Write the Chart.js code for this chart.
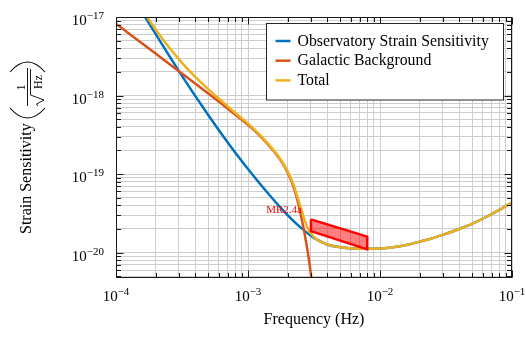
<!DOCTYPE html>
<html>
<head>
<meta charset="utf-8">
<script src="https://cdn.jsdelivr.net/npm/chart.js@4.4.1/dist/chart.umd.min.js"></script>
<style>
  html, body { margin: 0; padding: 0; background: #fff; }
  #wrap { width: 526px; height: 337px; }
</style>
</head>
<body>
<div id="wrap"><canvas id="sensChart" width="526" height="337"></canvas></div>
<script>
// --- data ---
const obsFreq = [1.585e-4, 2e-4, 2.512e-4, 3.162e-4, 3.981e-4, 5.012e-4, 6.31e-4, 7.943e-4, 1e-3, 1.259e-3, 1.585e-3, 1.995e-3, 2.512e-3, 3.162e-3, 3.981e-3, 5.012e-3, 6.31e-3, 7.943e-3, 1e-2, 1.259e-2, 1.585e-2, 1.995e-2, 2.512e-2, 3.162e-2, 3.981e-2, 5.012e-2, 6.31e-2, 7.943e-2, 1e-1];
const obsStrain = [1.135e-17, 6.05e-18, 3.27e-18, 1.78e-18, 9.9e-19, 5.61e-19, 3.24e-19, 1.91e-19, 1.16e-19, 7.19e-20, 4.58e-20, 3.01e-20, 2.08e-20, 1.54e-20, 1.27e-20, 1.17e-20, 1.13e-20, 1.117e-20, 1.13e-20, 1.17e-20, 1.25e-20, 1.38e-20, 1.53e-20, 1.74e-20, 2.0e-20, 2.34e-20, 2.82e-20, 3.47e-20, 4.34e-20];

const galFreq = [1e-4, 1.995e-4, 3.981e-4, 6.31e-4, 7.943e-4, 1e-3, 1.259e-3, 1.585e-3, 1.778e-3, 1.995e-3, 2.239e-3, 2.512e-3, 2.818e-3, 3.162e-3];
const galStrain = [8.22e-18, 3.42e-18, 1.42e-18, 7.87e-19, 5.77e-19, 4.23e-19, 2.96e-19, 1.91e-19, 1.47e-19, 1.05e-19, 6.47e-20, 3.06e-20, 1.09e-20, 2.73e-21];

const totFreq = [1.585e-4, 1.995e-4, 2.512e-4, 3.162e-4, 3.981e-4, 5.012e-4, 6.31e-4, 7.943e-4, 1e-3, 1.259e-3, 1.585e-3, 1.778e-3, 1.995e-3, 2.239e-3, 2.512e-3, 2.818e-3, 3.162e-3, 3.981e-3, 5.012e-3, 6.31e-3, 7.943e-3, 1e-2, 1.259e-2, 1.585e-2, 1.995e-2, 2.512e-2, 3.162e-2, 3.981e-2, 5.012e-2, 6.31e-2, 7.943e-2, 1e-1];
const totStrain = [1.225e-17, 6.95e-18, 4.14e-18, 2.61e-18, 1.73e-18, 1.2e-18, 8.51e-19, 6.08e-19, 4.39e-19, 3.04e-19, 1.96e-19, 1.51e-19, 1.09e-19, 6.93e-20, 3.7e-20, 2.09e-20, 1.57e-20, 1.27e-20, 1.17e-20, 1.13e-20, 1.117e-20, 1.13e-20, 1.17e-20, 1.25e-20, 1.38e-20, 1.53e-20, 1.74e-20, 2.0e-20, 2.34e-20, 2.82e-20, 3.47e-20, 4.34e-20];

// requirement box (closed polygon)
const boxFreq = [3e-3, 8e-3, 8e-3, 3e-3, 3e-3];
const boxStrain = [2.65e-20, 1.6e-20, 1.1e-20, 1.88e-20, 2.65e-20];
const boxLabel = 'MR2.4a';

const seriesNames = ['Observatory Strain Sensitivity', 'Galactic Background', 'Total'];
const seriesColors = ['#0072BD', '#D95319', '#EDB120'];

const xMin = 1e-4, xMax = 1e-1;
const yMin = 4.75e-21, yMax = 1e-17;
const xTickExps = [-4, -3, -2, -1];
const yTickExps = [-20, -19, -18, -17];

const SERIF = '"Liberation Serif", "DejaVu Serif", serif';

function pts(xs, ys) {
    return xs.map((x, i) => ({ x: x, y: ys[i] }));
}

// 1..9 x 10^k grid positions inside [lo, hi]
function logGrid(lo, hi) {
    const vals = [];
    for (let e = Math.floor(Math.log10(lo)); e <= Math.ceil(Math.log10(hi)); e++) {
        for (let m = 1; m <= 9; m++) {
            const v = m * Math.pow(10, e);
            if (v >= lo * 0.999 && v <= hi * 1.001) vals.push({ value: v });
        }
    }
    return vals;
}

function isDecade(v) {
    const l = Math.log10(v);
    return Math.abs(l - Math.round(l)) < 1e-6;
}

// "10" with a raised exponent
function drawPow(c, x, y, exp, align) {
    const base = '10', sup = (exp < 0 ? '\u2212' : '') + Math.abs(exp);
    c.font = '15px ' + SERIF;
    const wb = c.measureText(base).width;
    c.font = '11px ' + SERIF;
    const ws = c.measureText(sup).width;
    const left = align === 'right' ? x - wb - ws : x - (wb + ws) / 2;
    c.textAlign = 'left';
    c.textBaseline = 'alphabetic';
    c.font = '15px ' + SERIF;
    c.fillText(base, left, y);
    c.font = '11px ' + SERIF;
    c.fillText(sup, left + wb, y - 6);
}

const decorations = {
    id: 'decorations',
    afterDraw(chart) {
        const c = chart.ctx;
        const a = chart.chartArea;
        const xs = chart.scales.x, ys = chart.scales.y;
        const L = Math.round(a.left) + 0.5, R = Math.round(a.right) - 0.5;
        const T = Math.round(a.top) + 0.5, B = Math.round(a.bottom) - 0.5;
        c.save();

        // box frame
        c.strokeStyle = '#1a1a1a';
        c.lineWidth = 1;
        c.strokeRect(L, T, R - L, B - T);

        // inward ticks on all four sides
        c.beginPath();
        xs.ticks.forEach(t => {
            const p = Math.round(xs.getPixelForValue(t.value)) + 0.5;
            const len = isDecade(t.value) ? 7 : 4.5;
            c.moveTo(p, B); c.lineTo(p, B - len);
            c.moveTo(p, T); c.lineTo(p, T + len);
        });
        ys.ticks.forEach(t => {
            const p = Math.round(ys.getPixelForValue(t.value)) + 0.5;
            const len = isDecade(t.value) ? 7 : 4.5;
            c.moveTo(L, p); c.lineTo(L + len, p);
            c.moveTo(R, p); c.lineTo(R - len, p);
        });
        c.stroke();

        // tick labels
        c.fillStyle = '#000';
        xTickExps.forEach(e => drawPow(c, xs.getPixelForValue(Math.pow(10, e)), 301, e, 'center'));
        yTickExps.forEach(e => drawPow(c, 104, ys.getPixelForValue(Math.pow(10, e)) + 8, e, 'right'));

        // x title
        c.font = '16px ' + SERIF;
        c.textAlign = 'center';
        c.textBaseline = 'alphabetic';
        c.fillText('Frequency (Hz)', (a.left + a.right) / 2, 324);

        // y title, rotated: frame (u, v) -> screen (v, -u)
        c.save();
        c.rotate(-Math.PI / 2);
        c.font = '16px ' + SERIF;
        c.textAlign = 'left';
        c.fillText('Strain Sensitivity', -234, 31);
        c.strokeStyle = '#000';
        // big parentheses
        c.lineWidth = 1.1;
        c.beginPath();
        c.moveTo(-108, 10); c.quadraticCurveTo(-128, 27.5, -108, 45);
        c.moveTo(-72, 10); c.quadraticCurveTo(-52, 27.5, -72, 45);
        c.stroke();
        // fraction 1 / sqrt(Hz)
        c.font = '12px ' + SERIF;
        c.textAlign = 'center';
        c.fillText('1', -87.5, 25);
        c.lineWidth = 0.9;
        c.beginPath();
        c.moveTo(-106, 27.5); c.lineTo(-68, 27.5);
        c.stroke();
        // radical sign + overline
        c.lineWidth = 0.9;
        c.beginPath();
        c.moveTo(-106, 38); c.lineTo(-104, 36.5); c.lineTo(-100, 44); c.lineTo(-95, 30.5); c.lineTo(-69, 30.5);
        c.stroke();
        c.fillText('Hz', -82, 41.5);
        c.restore();

        // requirement label
        c.fillStyle = '#ff0000';
        c.font = '11px ' + SERIF;
        c.textAlign = 'right';
        c.textBaseline = 'alphabetic';
        c.fillText(boxLabel, xs.getPixelForValue(boxFreq[0]) - 9, ys.getPixelForValue(boxStrain[0]) - 6);

        // legend
        const bw = 237, bh = 76.5;
        const bx = Math.round(a.right - 9 - bw) + 0.5, by = Math.round(a.top + 6) + 0.5;
        c.fillStyle = '#fff';
        c.fillRect(bx, by, bw, bh);
        c.strokeStyle = '#262626';
        c.lineWidth = 1;
        c.strokeRect(bx, by, bw, bh);
        c.font = '15.8px ' + SERIF;
        c.textAlign = 'left';
        seriesNames.forEach((name, i) => {
            const yb = by + 22 + i * 19.7;
            c.strokeStyle = seriesColors[i];
            c.lineWidth = 2.5;
            c.beginPath();
            c.moveTo(bx + 9, yb - 4.5);
            c.lineTo(bx + 24, yb - 4.5);
            c.stroke();
            c.fillStyle = '#000';
            c.fillText(name, bx + 31, yb);
        });

        c.restore();
    }
};

const lineStyle = { borderWidth: 2.5, pointRadius: 0, fill: false, cubicInterpolationMode: 'monotone' };

new Chart(document.getElementById('sensChart'), {
    type: 'line',
    data: {
        datasets: [
            {
                label: boxLabel,
                data: pts(boxFreq, boxStrain),
                borderColor: '#ff0000',
                backgroundColor: 'rgba(255, 0, 0, 0.5)',
                borderWidth: 2.5,
                borderJoinStyle: 'miter',
                pointRadius: 0,
                tension: 0,
                fill: 'shape',
                order: 0
            },
            Object.assign({ label: seriesNames[2], data: pts(totFreq, totStrain), borderColor: seriesColors[2], order: 1 }, lineStyle),
            Object.assign({ label: seriesNames[1], data: pts(galFreq, galStrain), borderColor: seriesColors[1], order: 2 }, lineStyle),
            Object.assign({ label: seriesNames[0], data: pts(obsFreq, obsStrain), borderColor: seriesColors[0], order: 3 }, lineStyle)
        ]
    },
    options: {
        responsive: false,
        animation: false,
        layout: { padding: { left: 116, top: 17, right: 14, bottom: 59 } },
        plugins: {
            legend: { display: false },
            tooltip: { enabled: false }
        },
        scales: {
            x: {
                type: 'logarithmic',
                min: xMin,
                max: xMax,
                afterBuildTicks: s => { s.ticks = logGrid(xMin, xMax); },
                ticks: { display: false },
                grid: { color: '#cdcdcd', drawTicks: false, tickLength: 0 },
                border: { display: false }
            },
            y: {
                type: 'logarithmic',
                min: yMin,
                max: yMax,
                afterBuildTicks: s => { s.ticks = logGrid(yMin, yMax); },
                ticks: { display: false },
                grid: { color: '#cdcdcd', drawTicks: false, tickLength: 0 },
                border: { display: false }
            }
        }
    },
    plugins: [decorations]
});
</script>
</body>
</html>
